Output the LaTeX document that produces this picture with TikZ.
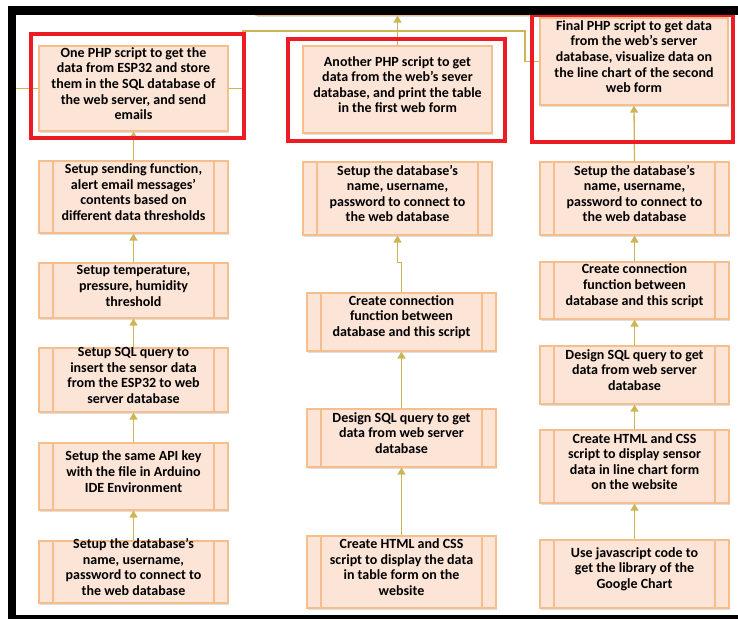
\documentclass[tikz,border=0pt]{standalone}
\usepackage{fontspec}
\setmainfont{Carlito}
\usetikzlibrary{arrows.meta,fit,shadows}
\definecolor{boxfill}{RGB}{252,228,214}
\definecolor{boxline}{RGB}{245,190,140}
\definecolor{connc}{RGB}{205,180,85}
\definecolor{redframe}{RGB}{237,28,36}
\begin{document}
\begin{tikzpicture}[x=1pt,y=-1pt,
  plainbox/.style={draw=boxline, fill=boxfill, line width=1.2pt, inner sep=0pt, align=center,
    font=\bfseries\fontsize{14}{15.6}\selectfont,
    drop shadow={opacity=0.25, shadow xshift=1.2pt, shadow yshift=-1.5pt}},
  proc/.style={plainbox,
    path picture={\draw[boxline, line width=1.2pt]
      ([xshift=14pt]path picture bounding box.north west) -- ([xshift=14pt]path picture bounding box.south west)
      ([xshift=-14pt]path picture bounding box.north east) -- ([xshift=-14pt]path picture bounding box.south east);}},
  redbox/.style={draw=redframe, line width=3.5pt, inner sep=0pt},
  conn/.style={draw=connc, line width=1.3pt},
  arr/.style={conn, -{Triangle[width=8pt,length=7pt]}}]
\useasboundingbox (0,0) rectangle (738,619);
\fill[white] (0,0) rectangle (738,619);

% top box, hidden behind the frame
\node[plainbox, fit={(256,8)(533,15)}] (top) {};

% left column
\node[plainbox, fit={(39,46)(228,131)}] (L1) {One PHP script to get the\\data from ESP32 and store\\them in the SQL database of\\the web server, and send\\emails};
\node[proc, fit={(39,161)(228,233)}] (L2) {Setup sending function,\\alert email messages’\\contents based on\\different data thresholds};
\node[proc, fit={(39,263)(228,318)}] (L3) {Setup temperature,\\pressure, humidity\\threshold};
\node[proc, fit={(39,348)(228,412)}] (L4) {Setup SQL query to\\insert the sensor data\\from the ESP32 to web\\server database};
\node[proc, fit={(39,443)(228,510)}] (L5) {Setup the same API key\\with the file in Arduino\\IDE Environment};
\node[proc, fit={(39,541)(228,603)}] (L6) {Setup the database’s\\name, username,\\password to connect to\\the web database};

% middle column
\node[plainbox, fit={(303,46)(492,133)}] (M1) {Another PHP script to get\\data from the web’s sever\\database, and print the table\\in the first web form};
\node[proc, fit={(303,162)(492,235)}] (M2) {Setup the database’s\\name, username,\\password to connect to\\the web database};
\node[proc, fit={(307,293)(496,351)}] (M3) {Create connection\\function between\\database and this script};
\node[proc, fit={(307,409)(496,467)}] (M4) {Design SQL query to get\\data from web server\\database};
\node[proc, fit={(307,536)(496,608)}] (M5) {Create HTML and CSS\\script to display the data\\in table form on the\\website};

% right column
\node[plainbox, fit={(540,18)(728,105)}] (R1) {Final PHP script to get data\\from the web’s server\\database, visualize data on\\the line chart of the second\\web form};
\node[proc, fit={(540,162)(729,235)}] (R2) {Setup the database’s\\name, username,\\password to connect to\\the web database};
\node[proc, fit={(540,262)(729,319)}] (R3) {Create connection\\function between\\database and this script};
\node[proc, fit={(540,346)(729,404)}] (R4) {Design SQL query to get\\data from web server\\database};
\node[proc, fit={(540,430)(729,503)}] (R5) {Create HTML and CSS\\script to display sensor\\data in line chart form\\on the website};
\node[proc, fit={(540,540)(729,608)}] (R6) {Use javascript code to\\get the library of the\\Google Chart};

% connectors
\coordinate (lout) at (12,88.5);
\coordinate (j1) at (243,31);
\coordinate (j2) at (525,31);
\draw[conn] (L1.west) -- (L1.west -| lout);
\draw[conn] (L1.east) -| (j1) -- (j2) |- (R1.west);

\draw[arr] (L2.north) -- (L1.south);
\draw[arr] (L3.north) -- (L2.south);
\draw[arr] (L4.north) -- (L3.south);
\draw[arr] (L5.north) -- (L4.south);
\draw[arr] (L6.north) -- (L5.south);

\draw[arr] (M1.north) -- (M1.north |- top.south);
\draw[arr] (M3.north) -- ++(0,-30) -| (M2.south);
\draw[arr] (M4.north) -- (M3.south);
\draw[arr] (M5.north) -- (M4.south);

\draw[arr] (R2.north) -- (R1.south);
\draw[arr] (R3.north) -- (R2.south);
\draw[arr] (R4.north) -- (R3.south);
\draw[arr] (R5.north) -- (R4.south);
\draw[arr] (R6.north) -- (R5.south);

% red highlight frames
\node[redbox, fit={(31,34)(244,138)}] (rL) {};
\node[redbox, fit={(288,39)(505,141)}] (rM) {};
\node[redbox, fit={(532,15)(733,142)}] (rR) {};

% black outer frame
\fill[black] (8,6) rectangle (738,15);
\fill[black] (8,6) rectangle (16,619);
\fill[black] (8,615) rectangle (738,619);
\end{tikzpicture}
\end{document}
